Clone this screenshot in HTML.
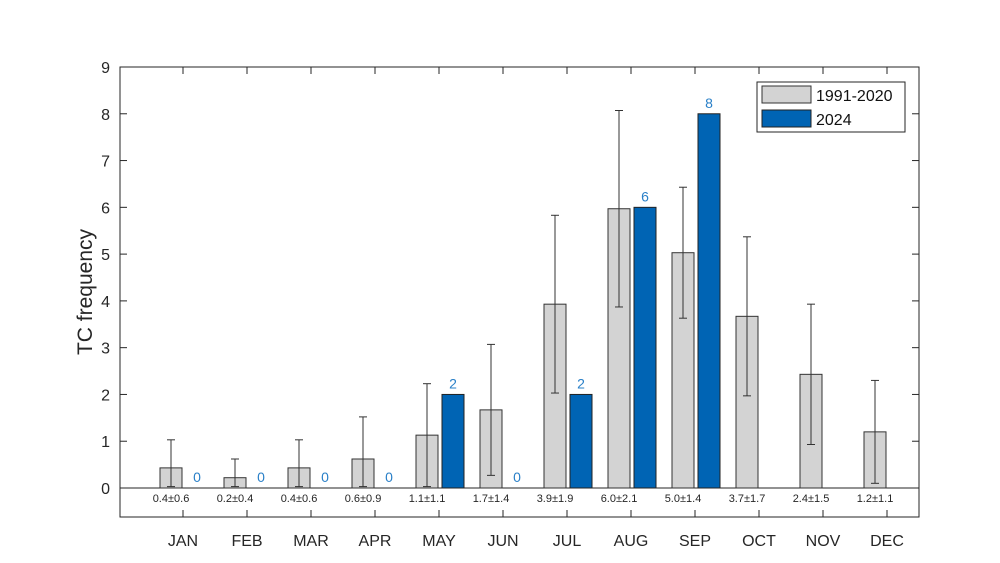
<!DOCTYPE html>
<html><head><meta charset="utf-8"><style>
body{margin:0;background:#fff}
svg{display:block;font-family:"Liberation Sans",Arial,sans-serif}
</style></head><body>
<svg id="chart" width="1000" height="563"></svg>
<script>
const months=["JAN","FEB","MAR","APR","MAY","JUN","JUL","AUG","SEP","OCT","NOV","DEC"];
const climMean=[0.4,0.2,0.4,0.6,1.1,1.7,3.9,6.0,5.0,3.7,2.4,1.2];
const climStd=[0.6,0.4,0.6,0.9,1.1,1.4,1.9,2.1,1.4,1.7,1.5,1.1];
const barMean=[0.43,0.22,0.43,0.62,1.13,1.67,3.93,5.97,5.03,3.67,2.43,1.2];
const obs2024=[0,0,0,0,2,0,2,6,8,null,null,null];
const yTicks=[0,1,2,3,4,5,6,7,8,9];
const NS="http://www.w3.org/2000/svg";
const svg=document.getElementById('chart');
const L=120,R=919,T=67,B=517;
const y=v=>488-v*(488-67)/9;
const xc=i=>183+i*64;
function mk(t,a,p){const e=document.createElementNS(NS,t);for(const k in a)e.setAttribute(k,a[k]);(p||svg).appendChild(e);return e;}
const box=mk('rect',{x:L,y:T,width:R-L,height:B-T,fill:'none',stroke:'#262626','stroke-width':1});


yTicks.forEach(v=>{
  mk('line',{x1:L,x2:L+7,y1:y(v),y2:y(v),stroke:'#262626'});
  mk('line',{x1:R,x2:R-7,y1:y(v),y2:y(v),stroke:'#262626'});
  const t=mk('text',{x:L-10,y:y(v)+6,'text-anchor':'end','font-size':16,fill:'#262626'});
  t.textContent=v;
  
  
});
const zl=mk('line',{x1:L,x2:R,y1:y(0),y2:y(0),stroke:'#262626'});


months.forEach((m,i)=>{
  const c=xc(i);
  mk('line',{x1:c,x2:c,y1:B,y2:B-7,stroke:'#262626'});
  mk('line',{x1:c,x2:c,y1:T,y2:T+7,stroke:'#262626'});
  const gb=mk('rect',{x:c-23,y:y(barMean[i]),width:22,height:y(0)-y(barMean[i]),fill:'#d3d3d3',stroke:'#333','stroke-width':1});
  
  
  const ex=c-12,lo=Math.max(barMean[i]-climStd[i],0.03),hi=barMean[i]+climStd[i];
  mk('line',{x1:ex,x2:ex,y1:y(lo),y2:y(hi),stroke:'#333'});
  mk('line',{x1:ex-4,x2:ex+4,y1:y(hi),y2:y(hi),stroke:'#333'});
  mk('line',{x1:ex-4,x2:ex+4,y1:y(lo),y2:y(lo),stroke:'#333'});
  if(obs2024[i]!==null){
    if(obs2024[i]>0){
      const bb=mk('rect',{x:c+3,y:y(obs2024[i]),width:22,height:y(0)-y(obs2024[i]),fill:'#0064b4',stroke:'#222','stroke-width':1});
      
      
    }
    const vl=mk('text',{x:c+14,y:y(obs2024[i])-6,'text-anchor':'middle','font-size':14,fill:'#2a80c8'});
    vl.textContent=obs2024[i];
    
    
  }
  const sl=mk('text',{x:c-12,y:502,'text-anchor':'middle','font-size':11,fill:'#262626'});
  sl.textContent=climMean[i].toFixed(1)+'±'+climStd[i].toFixed(1);
  
  
  const ml=mk('text',{x:c,y:546,'text-anchor':'middle','font-size':16,fill:'#262626'});
  ml.textContent=m;
  
  
});
const yt=mk('text',{x:0,y:0,transform:'translate(92,292) rotate(-90)','text-anchor':'middle','font-size':21,fill:'#262626'});
yt.textContent='TC frequency';


const lg=mk('g',{});


mk('rect',{x:757,y:82,width:148,height:50,fill:'#fff',stroke:'#262626'},lg);
mk('rect',{x:762,y:86,width:49,height:17,fill:'#d3d3d3',stroke:'#333'},lg);
mk('rect',{x:762,y:110,width:49,height:17,fill:'#0064b4',stroke:'#222'},lg);
const t1=mk('text',{x:816,y:101,'font-size':16,fill:'#111'},lg);t1.textContent='1991-2020';


const t2=mk('text',{x:816,y:125,'font-size':16,fill:'#111'},lg);t2.textContent='2024';


</script>
</body></html>
